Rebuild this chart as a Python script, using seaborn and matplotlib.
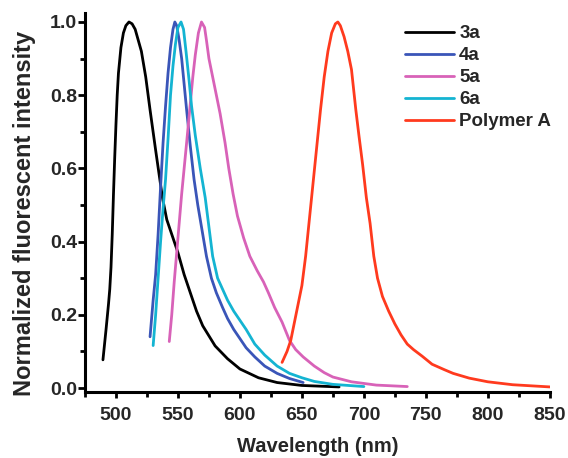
import numpy as np
import pandas as pd
import matplotlib
matplotlib.use("Agg")
import matplotlib.pyplot as plt
import seaborn as sns
from matplotlib.ticker import MultipleLocator

# ---- data ----
x_3a = [489.5, 492, 494, 495, 496, 497, 498, 499, 500, 501, 502, 504, 506, 508, 510.5, 513, 515.5, 518,
        520.5, 524, 527.5, 532, 537.5, 541, 545, 550, 555, 560, 565, 570, 580, 590, 600, 615, 630, 650, 680]
y_3a = [0.077, 0.16, 0.23, 0.27, 0.33, 0.42, 0.53, 0.63, 0.72, 0.80, 0.86, 0.93, 0.97, 0.99, 1.00, 0.995,
        0.98, 0.95, 0.92, 0.85, 0.76, 0.65, 0.52, 0.46, 0.42, 0.37, 0.31, 0.26, 0.21, 0.17, 0.115, 0.08,
        0.052, 0.028, 0.015, 0.007, 0.003]

x_4a = [527.5, 530, 532, 534, 536, 538, 540, 542, 544, 546, 547.5, 549, 551, 553, 555, 557, 560, 563,
        566, 570, 573, 577, 581, 586, 590, 595, 600, 605, 612, 620, 630, 640, 651]
y_4a = [0.14, 0.24, 0.31, 0.42, 0.55, 0.67, 0.77, 0.86, 0.93, 0.98, 1.00, 0.99, 0.95, 0.90, 0.83, 0.76,
        0.66, 0.57, 0.50, 0.42, 0.36, 0.30, 0.26, 0.22, 0.19, 0.16, 0.135, 0.11, 0.085, 0.06, 0.04, 0.026, 0.015]

x_5a = [543, 545, 547, 549, 551, 553, 555, 557, 559.5, 562, 564, 566.5, 569, 571.5, 573, 575, 578, 581,
        584, 588, 591, 594.5, 598, 603, 608, 614, 619, 623, 628, 634, 640, 645, 651, 660, 668, 675, 690,
        710, 735]
y_5a = [0.127, 0.20, 0.29, 0.37, 0.45, 0.53, 0.60, 0.67, 0.76, 0.85, 0.91, 0.97, 1.00, 0.985, 0.95, 0.90,
        0.85, 0.80, 0.75, 0.67, 0.60, 0.53, 0.47, 0.41, 0.36, 0.32, 0.29, 0.26, 0.22, 0.18, 0.13, 0.105,
        0.085, 0.06, 0.042, 0.03, 0.017, 0.008, 0.004]

x_6a = [530, 532, 534, 536, 538, 540, 542, 544, 546, 548, 550, 552.5, 554.5, 556.5, 559, 561, 564, 568,
        572, 575, 578, 582, 586, 590, 595, 600, 605, 612, 620, 630, 640, 650, 660, 675, 700]
y_6a = [0.116, 0.20, 0.30, 0.40, 0.49, 0.57, 0.68, 0.80, 0.88, 0.94, 0.985, 1.00, 0.98, 0.92, 0.84,
        0.77, 0.69, 0.60, 0.52, 0.44, 0.36, 0.30, 0.27, 0.24, 0.21, 0.185, 0.16, 0.12, 0.09, 0.06, 0.04,
        0.028, 0.018, 0.01, 0.004]

x_pa = [634, 638, 641, 644, 647, 650, 653, 656, 659, 662, 665, 668, 671, 674, 677, 679, 681, 684, 687,
        690, 693.5, 696, 699, 702, 705, 708, 711, 715, 720, 725, 730, 735, 740, 747, 755, 765, 772, 785,
        800, 820, 850]
y_pa = [0.07, 0.10, 0.13, 0.18, 0.23, 0.28, 0.36, 0.46, 0.56, 0.66, 0.76, 0.85, 0.92, 0.97, 0.995, 1.00,
        0.99, 0.96, 0.92, 0.87, 0.76, 0.69, 0.61, 0.52, 0.45, 0.36, 0.30, 0.25, 0.21, 0.175, 0.145, 0.12,
        0.105, 0.087, 0.065, 0.05, 0.04, 0.027, 0.017, 0.009, 0.003]

series_names = ["3a", "4a", "5a", "6a", "Polymer A"]
series_x = [x_3a, x_4a, x_5a, x_6a, x_pa]
series_y = [y_3a, y_4a, y_5a, y_6a, y_pa]
colors = ["#000000", "#3a55b8", "#d862b8", "#14b4d2", "#ff3a1e"]

x_ticks = [500, 550, 600, 650, 700, 750, 800, 850]
y_ticks = [0.0, 0.2, 0.4, 0.6, 0.8, 1.0]

frames = []
for n, xs, ys in zip(series_names, series_x, series_y):
    frames.append(pd.DataFrame({"Wavelength": xs, "Intensity": ys, "Sample": n}))
df = pd.concat(frames, ignore_index=True)

# ---- style ----
sns.set_style("ticks")
plt.rcParams["font.family"] = ["Liberation Sans", "DejaVu Sans"]
plt.rcParams["font.weight"] = "bold"
plt.rcParams["axes.labelweight"] = "bold"
plt.rcParams["lines.solid_joinstyle"] = "round"

fig = plt.figure(figsize=(5.68, 4.58), dpi=100)
ax = fig.add_axes([0.1496, 0.144, 0.8184, 0.828])

sns.lineplot(data=df, x="Wavelength", y="Intensity", hue="Sample", hue_order=series_names,
             palette=colors, sort=False, estimator=None, linewidth=2.0, ax=ax)

ax.set_xlim(475, 850)
ax.set_ylim(-0.011, 1.025)
ax.set_xticks(x_ticks)
ax.set_xticklabels([str(t) for t in x_ticks])
ax.set_yticks(y_ticks)
ax.set_yticklabels([f"{t:.1f}" for t in y_ticks])
ax.xaxis.set_minor_locator(MultipleLocator(25))
ax.yaxis.set_minor_locator(MultipleLocator(0.1))

for s in ["top", "right"]:
    ax.spines[s].set_visible(False)
for s in ["left", "bottom"]:
    ax.spines[s].set_linewidth(2.2)
    ax.spines[s].set_color("black")

ax.tick_params(axis="x", which="major", direction="out", length=4.5, width=2.0,
               labelsize=14, color="black", pad=6.0)
ax.tick_params(axis="y", which="major", direction="out", length=5, width=2.0,
               labelsize=14, color="black", pad=0.8)
ax.tick_params(axis="both", which="minor", direction="out", length=3.5, width=2.0, color="black")
for lab in ax.get_xticklabels() + ax.get_yticklabels():
    lab.set_fontweight("bold")

ax.set_xlabel("Wavelength (nm)", fontsize=14.5, fontweight="bold", labelpad=9.5)
ax.set_ylabel("Normalized fluorescent intensity", fontsize=17, fontweight="bold")
ax.yaxis.set_label_coords(-0.105, 0.47)

leg = ax.legend(loc="upper left", bbox_to_anchor=(0.688, 0.968), frameon=False, fontsize=13.5,
                handlelength=2.6, handletextpad=0.3, labelspacing=0.26, borderaxespad=0.0,
                borderpad=0.0)
for t in leg.get_texts():
    t.set_fontweight("bold")
for l in leg.get_lines():
    l.set_linewidth(2.0)

fig.savefig("out.png", dpi=100)
